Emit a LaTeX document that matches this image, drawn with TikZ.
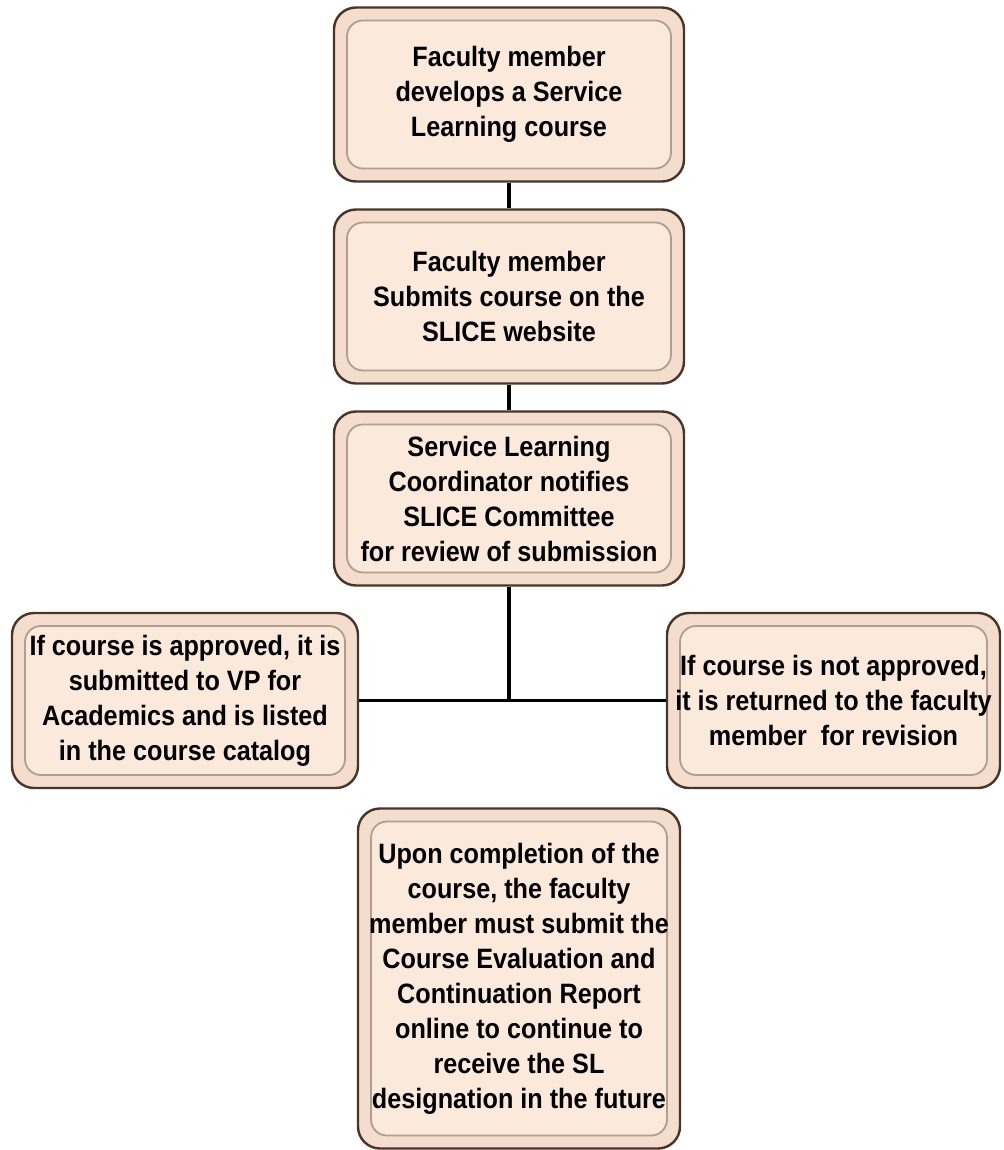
\documentclass[tikz,border=0pt]{standalone}
\usepackage{fontspec}
\setmainfont{Liberation Sans}[FakeStretch=0.9]
\usepackage{xcolor}
\usetikzlibrary{positioning}
\definecolor{boxedge}{RGB}{72,52,40}
\definecolor{boxband}{RGB}{244,221,204}
\definecolor{boxfill}{RGB}{251,233,220}
\definecolor{boxinner}{RGB}{176,158,146}

\begin{document}
\begin{tikzpicture}[node distance=101pt, auto]
    \tikzstyle{stepbox} = [rectangle, rounded corners=11pt, minimum width=175pt, minimum height=87pt, inner sep=0pt, align=center, draw=boxedge, line width=1.2pt, fill=boxband, font=\fontsize{14}{17.5}\selectfont\bfseries,
        path picture={\draw[boxinner, line width=0.9pt, fill=boxfill, rounded corners=8pt] ([shift={(6.5pt,-6.5pt)}]path picture bounding box.north west) rectangle ([shift={(-6.5pt,6.5pt)}]path picture bounding box.south east);}]
    \tikzstyle{branchbox} = [stepbox, minimum height=87.5pt]
    \tikzstyle{finalbox} = [stepbox, minimum width=161pt, minimum height=170pt]
    \tikzstyle{link} = [draw=black, line width=1.6pt]

    \useasboundingbox (-254.5pt,47.25pt) rectangle (247pt,-527.75pt);

    % Main steps
    \node [stepbox] (develop) {Faculty member\\develops a Service\\Learning course};
    \node [stepbox, below of=develop] (submit) {Faculty member\\Submits course on the\\SLICE website};
    \node [stepbox, below of=submit] (review) {Service Learning\\Coordinator notifies\\SLICE Committee\\for review of submission};

    % Outcomes
    \node [branchbox, below of=review, xshift=-162pt, minimum width=173pt] (approved) {If course is approved, it is\\submitted to VP for\\Academics and is listed\\in the course catalog};
    \node [branchbox, below of=review, xshift=162.25pt, minimum width=166.5pt] (notapproved) {If course is not approved,\\it is returned to the faculty\\member~ for revision};
    \node [finalbox, below of=review, node distance=240pt, xshift=5pt] (evaluation) {Upon completion of the\\course, the faculty\\member must submit the\\Course Evaluation and\\Continuation Report\\online to continue to\\receive the SL\\designation in the future};

    % Lines
    \coordinate (split) at (review |- approved.east);
    \draw [link] (develop) -- (submit);
    \draw [link] (submit) -- (review);
    \draw [link] (review) -- (split);
    \draw [link] (approved) -- (notapproved);
\end{tikzpicture}
\end{document}
